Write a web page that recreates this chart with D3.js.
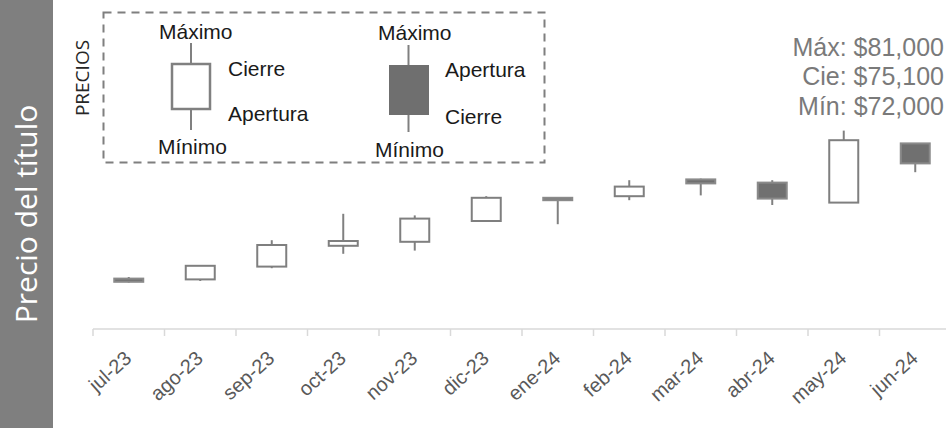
<!DOCTYPE html>
<html>
<head>
<meta charset="utf-8">
<script src="https://cdn.jsdelivr.net/npm/d3@7"></script>
<style>
  body { margin: 0; background: #fff; }
</style>
</head>
<body>
<script>
const width = 946;
const height = 428;

const months = ["jul-23", "ago-23", "sep-23", "oct-23", "nov-23", "dic-23",
  "ene-24", "feb-24", "mar-24", "abr-24", "may-24", "jun-24"];
const open  = [62300, 62200, 63800, 66400, 66900, 69500, 72400, 72600, 74700, 74300, 71800, 79200];
const close = [61900, 63900, 66500, 67000, 69800, 72400, 72100, 73800, 74200, 72300, 79600, 76700];
const high  = [62500, 63900, 67100, 70400, 70200, 72600, 72500, 74600, 74800, 74600, 80800, 79200];
const low   = [61800, 62000, 63600, 65400, 65800, 69500, 69100, 72100, 72700, 71500, 71800, 75600];

const note = ["Máx: $81,000", "Cie: $75,100", "Mín: $72,000"];

const data = months.map((m, i) => ({
  m, o: open[i], c: close[i], h: high[i], l: low[i]
}));

const svg = d3.select("body")
  .append("svg")
  .attr("width", width)
  .attr("height", height)
  .style("font-family", "'Liberation Sans', Arial, sans-serif");

// left title band
svg.append("rect")
  .attr("x", 0).attr("y", 0)
  .attr("width", 53).attr("height", height)
  .attr("fill", "#7f7f7f");
svg.append("text")
  .attr("transform", "translate(37,214) rotate(-90)")
  .attr("text-anchor", "middle")
  .attr("fill", "#fff")
  .style("font-family", "'Open Sans', sans-serif")
  .style("font-size", "30px")
  .text("Precio del título");

const x = d3.scaleBand().domain(months).range([93, 951]);
const y = d3.scaleLinear().domain([56000, 86000]).range([329, 89]);

// x axis
const axis = svg.append("g").attr("transform", "translate(0,329)");
axis.append("line")
  .attr("x1", 93).attr("x2", width)
  .attr("stroke", "#d9d9d9").attr("stroke-width", 1.5);
axis.selectAll(".tk")
  .data(months.concat(["_"]))
  .enter()
  .append("line")
  .attr("x1", (d, i) => 93 + i * x.step())
  .attr("x2", (d, i) => 93 + i * x.step())
  .attr("y1", 0).attr("y2", 7)
  .attr("stroke", "#d9d9d9").attr("stroke-width", 1.5);
axis.selectAll(".lbl")
  .data(months)
  .enter()
  .append("text")
  .attr("transform", d => `translate(${x(d) + x.bandwidth() / 2 + 4},${31}) rotate(-42)`)
  .attr("text-anchor", "end")
  .attr("fill", "#595959")
  .style("font-size", "20px")
  .text(d => d);

// candles
const bw = 29;
const g = svg.append("g");
g.selectAll(".wick")
  .data(data)
  .enter()
  .append("line")
  .attr("x1", d => x(d.m) + x.bandwidth() / 2)
  .attr("x2", d => x(d.m) + x.bandwidth() / 2)
  .attr("y1", d => y(d.h))
  .attr("y2", d => y(d.l))
  .attr("stroke", "#808080")
  .attr("stroke-width", 2);
g.selectAll(".body")
  .data(data)
  .enter()
  .append("rect")
  .attr("x", d => x(d.m) + x.bandwidth() / 2 - bw / 2)
  .attr("y", d => y(Math.max(d.o, d.c)))
  .attr("width", bw)
  .attr("height", d => Math.max(2, Math.abs(y(d.o) - y(d.c))))
  .attr("fill", d => d.c >= d.o ? "#fff" : "#707070")
  .attr("stroke", d => d.c >= d.o ? "#7f7f7f" : "#8a8a8a")
  .attr("stroke-width", 2);

// annotation, right at the edge
svg.selectAll(".note")
  .data(note)
  .enter()
  .append("text")
  .attr("x", 944)
  .attr("y", (d, i) => 55.5 + i * 29.5)
  .attr("text-anchor", "end")
  .attr("fill", "#7a7a7a")
  .style("font-size", "25px")
  .text(d => d);

// legend
const leg = svg.append("g");
leg.append("rect")
  .attr("x", 103.5).attr("y", 12.5)
  .attr("width", 441).attr("height", 150)
  .attr("fill", "none")
  .attr("stroke", "#7f7f7f")
  .attr("stroke-width", 2)
  .attr("stroke-dasharray", "8,6");
leg.append("text")
  .attr("transform", "translate(89,78) rotate(-90)")
  .attr("text-anchor", "middle")
  .attr("fill", "#262626")
  .style("font-family", "'Open Sans', sans-serif")
  .style("font-size", "19px")
  .text("PRECIOS");

// white legend candle
leg.append("line").attr("x1", 191).attr("x2", 191).attr("y1", 43).attr("y2", 130)
  .attr("stroke", "#808080").attr("stroke-width", 2);
leg.append("rect").attr("x", 172).attr("y", 64).attr("width", 38).attr("height", 45)
  .attr("fill", "#fff").attr("stroke", "#808080").attr("stroke-width", 2.5);
// dark legend candle
leg.append("line").attr("x1", 408.5).attr("x2", 408.5).attr("y1", 45).attr("y2", 132)
  .attr("stroke", "#808080").attr("stroke-width", 2);
leg.append("rect").attr("x", 389).attr("y", 65).attr("width", 40).attr("height", 50)
  .attr("fill", "#6f6f6f");

const legText = [
  ["Máximo", 159, 38.5], ["Cierre", 228, 75.5], ["Apertura", 228, 120.5], ["Mínimo", 158, 153.5],
  ["Máximo", 378, 40], ["Apertura", 445, 77], ["Cierre", 445, 124], ["Mínimo", 375, 157]
];
leg.selectAll(".lt")
  .data(legText)
  .enter()
  .append("text")
  .attr("x", d => d[1])
  .attr("y", d => d[2])
  .attr("fill", "#1a1a1a")
  .style("font-size", "21px")
  .text(d => d[0]);
</script>
</body>
</html>
